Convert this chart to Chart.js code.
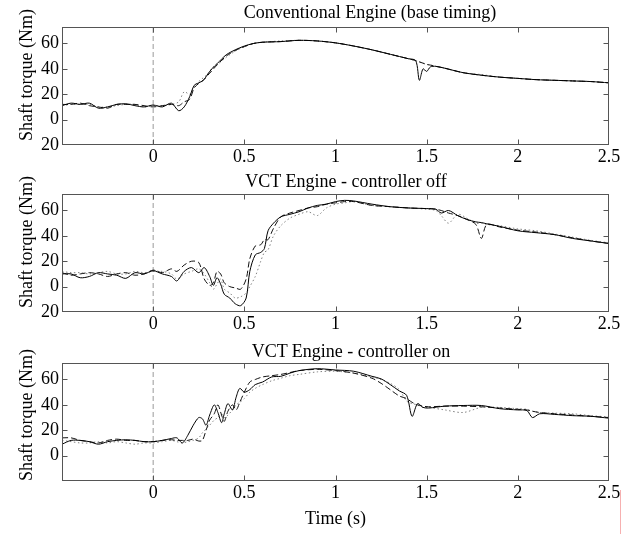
<!DOCTYPE html>
<html>
<head>
<meta charset="utf-8">
<script src="https://cdn.jsdelivr.net/npm/chart.js@4.4.0/dist/chart.umd.min.js"></script>
<style>
	body { margin: 0; background: #fff; }
	#wrap { position: relative; width: 639px; height: 534px; overflow: hidden; font-family: "Liberation Serif", "Times New Roman", serif; color: #000; }
	canvas { position: absolute; left: 0; }
	.ttl { position: absolute; width: 400px; text-align: center; font-size: 18px; line-height: 20px; white-space: nowrap; }
	.ylab { position: absolute; width: 200px; height: 20px; line-height: 20px; text-align: center; font-size: 18px; white-space: nowrap; transform: rotate(-90deg); }
	.mark { position: absolute; left: 620px; top: 490px; width: 1px; height: 44px; background: #f6b0b0; }
</style>
</head>
<body>
<div id="wrap">
	<canvas id="c1" width="639" height="170" style="top:0"></canvas>
	<canvas id="c2" width="639" height="170" style="top:170px"></canvas>
	<canvas id="c3" width="639" height="194" style="top:340px"></canvas>
	<div class="ttl" style="left:170px;top:2px">Conventional Engine (base timing)</div>
	<div class="ttl" style="left:146px;top:171px">VCT Engine - controller off</div>
	<div class="ttl" style="left:151px;top:341px">VCT Engine - controller on</div>
	<div class="ylab" style="left:-74px;top:65px">Shaft torque (Nm)</div>
	<div class="ylab" style="left:-74px;top:232px">Shaft torque (Nm)</div>
	<div class="ylab" style="left:-74px;top:405px">Shaft torque (Nm)</div>
	<div class="mark"></div>
</div>
<script>
// 坐标轴范围
var T_MIN = -0.5, T_MAX = 2.5, T_STEP = 0.5;
var Y_MIN = -20, Y_MAX = 73, Y_STEP = 20;

// 第一幅：常规发动机
var t1 = [-0.5, -0.45, -0.4, -0.35, -0.3, -0.25, -0.2, -0.15, -0.1, -0.05,
	0, 0.05, 0.1, 0.14, 0.17, 0.2, 0.225, 0.25, 0.275, 0.3,
	0.325, 0.35, 0.4, 0.45, 0.5, 0.55, 0.6, 0.7, 0.8, 0.9,
	1.0, 1.1, 1.2, 1.3, 1.4, 1.44, 1.46, 1.48, 1.5, 1.52,
	1.55, 1.6, 1.7, 1.8, 1.9, 2.0, 2.1, 2.2, 2.3, 2.4, 2.5];
var p1Solid = [11, 13, 12, 13, 9, 10, 12, 12.5, 11, 10,
	11.5, 10, 13, 7, 10, 18, 27, 29, 31, 36,
	40.5, 44, 51, 55, 58, 60, 61, 61.5, 62.5, 62,
	60.5, 58, 55, 51.5, 48, 46.5, 31, 40, 38, 41.5,
	42, 40.5, 37, 35, 33.5, 32.5, 31.5, 31, 30.5, 30, 29];
var p1Dashed = [12, 12, 13, 11, 10, 9, 12, 12, 12, 11,
	10, 11, 12, 11, 14, 16, 25, 28.5, 31, 35,
	39, 43, 50, 54.5, 57.5, 60, 61, 61.5, 62.5, 62,
	60.5, 58, 55, 51.5, 48, 46.5, 45.5, 44.5, 43.5, 43,
	42, 40.5, 37, 35, 33.5, 32.5, 31.5, 31, 30.5, 30, 29];
var p1Dotted = [11, 12, 12, 12, 10, 10, 11, 12, 12, 10,
	11, 11, 12, 14, 22, 20, 26, 30, 33, 36,
	41, 43, 49, 54, 57.5, 60, 61, 62, 62.5, 62,
	60.5, 58, 55, 51.5, 48, 46.5, 45.5, 44.5, 43.5, 43,
	42, 40.5, 37, 35.5, 33.5, 32.5, 31.5, 31, 30.5, 30, 29];

// 第二幅：VCT 控制器关闭
var t2 = [-0.5, -0.45, -0.4, -0.35, -0.3, -0.25, -0.2, -0.15, -0.1, -0.05,
	0, 0.05, 0.1, 0.13, 0.17, 0.21, 0.25, 0.28, 0.31, 0.33,
	0.35, 0.37, 0.39, 0.42, 0.45, 0.48, 0.51, 0.53, 0.56, 0.59,
	0.61, 0.63, 0.66, 0.7, 0.75, 0.8, 0.85, 0.9, 0.95, 1.0,
	1.05, 1.1, 1.2, 1.3, 1.4, 1.5, 1.55, 1.58, 1.62, 1.67,
	1.72, 1.77, 1.8, 1.83, 1.9, 2.0, 2.1, 2.2, 2.3, 2.4, 2.5];
var p2Solid = [10, 10, 7, 8, 11, 10, 9, 6.5, 11, 10,
	12.5, 10, 8, 4.5, 12, 15, 11, 15, 8, 1,
	7, 2, -6, -9, -13.5, -15, -9, 12, 25, 27,
	30, 44, 50, 55, 57, 59, 62, 64, 65, 67,
	68, 67.5, 65, 63, 62, 61.5, 61, 58, 60, 56,
	53, 51, 50.5, 49.5, 47.5, 44, 42.5, 41, 38, 36, 34];
var p2Dashed = [11, 9, 10, 11, 10, 8, 10, 11, 9, 10,
	13, 11, 14, 12, 17, 20, 19, 6, 1, 3,
	12, 10, 3, 0, -1, -2, 6, 22, 32, 33,
	37, 37, 46, 55, 58, 60, 62, 63, 65, 66,
	67, 67, 64, 63, 62, 61.5, 61, 60, 58, 56,
	53, 49, 38, 49, 47, 44.5, 43, 41, 38.5, 36, 34];
var p2Dotted = [12, 11, 11, 10, 11, 12, 10, 10, 12, 11,
	12, 12, 10, 6, 10, 12, 14, 10, 3, -2,
	2, 6, -2, -5, -9, -8, -5, 0, 8, 20,
	27, 29, 40, 48, 54, 57, 59, 56, 62, 65,
	66, 67, 64, 63, 62, 61, 60, 56, 50, 57,
	54, 50, 50, 49, 48, 45.5, 44, 41.5, 39, 36.5, 34.5];

// 第三幅：VCT 控制器开启
var t3 = [-0.5, -0.45, -0.4, -0.35, -0.3, -0.25, -0.2, -0.15, -0.1, -0.05,
	0, 0.05, 0.1, 0.13, 0.16, 0.19, 0.22, 0.25, 0.27, 0.29,
	0.31, 0.335, 0.355, 0.375, 0.39, 0.41, 0.435, 0.455, 0.475, 0.5,
	0.53, 0.56, 0.6, 0.65, 0.7, 0.75, 0.8, 0.9, 1.0, 1.1,
	1.2, 1.25, 1.3, 1.35, 1.39, 1.42, 1.45, 1.48, 1.51, 1.6,
	1.7, 1.8, 1.9, 2.0, 2.05, 2.08, 2.12, 2.2, 2.3, 2.4, 2.5];
var p3Solid = [9, 12, 12, 11, 9, 11, 12, 12.5, 12, 11,
	11, 12, 13.5, 14, 10, 16, 24, 30, 29, 24,
	32, 40, 34, 26, 33, 41, 36, 46, 53, 50,
	52, 56, 58, 62, 62.5, 65, 67, 68.5, 67.5, 66.5,
	62.5, 60.5, 56, 51, 47.5, 31, 41, 38, 37.5, 39,
	39.5, 39.5, 37, 36, 35.5, 30, 33, 32.5, 31.5, 31, 29.5];
var p3Dashed = [14, 14, 12, 11, 10, 12, 13, 12, 12, 11,
	11, 12, 12.5, 12, 12, 12, 13, 11.5, 12, 20,
	28, 33, 40, 32, 27, 35, 40, 36, 42, 50,
	58, 60, 62, 63, 64, 65.5, 67, 68, 67, 65,
	61, 57, 52, 47, 45, 42, 40, 39, 38.5, 39,
	39, 38.5, 37.5, 36.5, 36, 35, 34, 33, 32, 31, 30];
var p3Dotted = [12, 11, 10, 10, 11, 10, 11, 10, 9, 10,
	10, 11, 12, 11, 10, 11, 12, 14, 18, 21,
	24, 28, 30, 33, 30, 32, 36, 40, 42, 45,
	50, 53, 56, 59, 61, 63, 64, 66, 66.5, 65,
	62, 60, 57, 52, 43, 41, 40, 38, 38, 36,
	34, 38, 38, 37, 36.5, 35, 34, 33.5, 33, 31.5, 30.5];

Chart.defaults.font.family = '"Liberation Serif", "Times New Roman", serif';
Chart.defaults.font.size = 18;
Chart.defaults.color = '#000';

// 画边框和朝内的刻度线
var boxTicks = {
	id: 'boxTicks',
	afterDraw: function (chart) {
		var ctx = chart.ctx, a = chart.chartArea, sx = chart.scales.x, sy = chart.scales.y, L = 5;
		var left = Math.round(a.left) + 0.5, right = Math.round(a.right) - 0.5,
			top = Math.round(a.top) + 0.5, bottom = Math.round(a.bottom) - 0.5;
		ctx.save();
		ctx.strokeStyle = '#555';
		ctx.lineWidth = 1;
		ctx.beginPath();
		sx.ticks.forEach(function (tk) {
			var px = Math.round(sx.getPixelForValue(tk.value)) + 0.5;
			if (px <= left + 1 || px >= right - 1) return;
			ctx.moveTo(px, bottom); ctx.lineTo(px, bottom - L);
			ctx.moveTo(px, top); ctx.lineTo(px, top + L);
		});
		sy.ticks.forEach(function (tk) {
			var py = Math.round(sy.getPixelForValue(tk.value)) + 0.5;
			if (py <= top + 1 || py >= bottom - 1) return;
			ctx.moveTo(left, py); ctx.lineTo(left + L, py);
			ctx.moveTo(right, py); ctx.lineTo(right - L, py);
		});
		ctx.stroke();
		ctx.strokeRect(left, top, right - left, bottom - top);
		ctx.restore();
	}
};

function pairs(t, v) {
	return t.map(function (x, i) { return { x: x, y: v[i] }; });
}

function makePanel(id, t, solid, dashed, dotted, padTop, xAxisH, showBottomTick, xTitle) {
	return new Chart(document.getElementById(id), {
		type: 'line',
		data: {
			datasets: [
				{ data: pairs(t, solid), borderColor: '#000', borderWidth: 1 },
				{ data: pairs(t, dashed), borderColor: '#111', borderWidth: 1, borderDash: [6, 3] },
				{ data: pairs(t, dotted), borderColor: '#808080', borderWidth: 1, borderDash: [1.5, 2.5] },
				{ data: [{ x: 0, y: Y_MIN }, { x: 0, y: Y_MAX }], borderColor: '#999', borderWidth: 1, borderDash: [5, 3], tension: 0 }
			]
		},
		options: {
			responsive: false,
			animation: false,
			events: [],
			layout: { padding: { top: padTop, right: 30, left: 0, bottom: 0 } },
			plugins: { legend: { display: false }, tooltip: { enabled: false } },
			elements: { point: { radius: 0 }, line: { tension: 0.3 } },
			scales: {
				x: {
					type: 'linear', min: T_MIN, max: T_MAX,
					grid: { display: false, drawTicks: false }, border: { display: false },
					ticks: {
						stepSize: T_STEP, padding: 1, maxRotation: 0, autoSkip: false,
						callback: function (v) { return v < 0 ? '' : String(v); }
					},
					title: { display: !!xTitle, text: xTitle || '', padding: { top: 0, bottom: 4 } },
					afterFit: function (s) { s.height = xAxisH; }
				},
				y: {
					min: Y_MIN, max: Y_MAX,
					grid: { display: false, drawTicks: false }, border: { display: false },
					ticks: {
						stepSize: Y_STEP, includeBounds: false, padding: 3,
						callback: function (v) {
							if (v < 0 && !showBottomTick) return '';
							return String(Math.abs(v));
						}
					},
					afterFit: function (s) { s.width = 62; }
				}
			}
		},
		plugins: [boxTicks]
	});
}

makePanel('c1', t1, p1Solid, p1Dashed, p1Dotted, 27, 25, true);
makePanel('c2', t2, p2Solid, p2Dashed, p2Dotted, 24, 28, true);
makePanel('c3', t3, p3Solid, p3Dashed, p3Dotted, 23, 53, false, 'Time (s)');
</script>
</body>
</html>
